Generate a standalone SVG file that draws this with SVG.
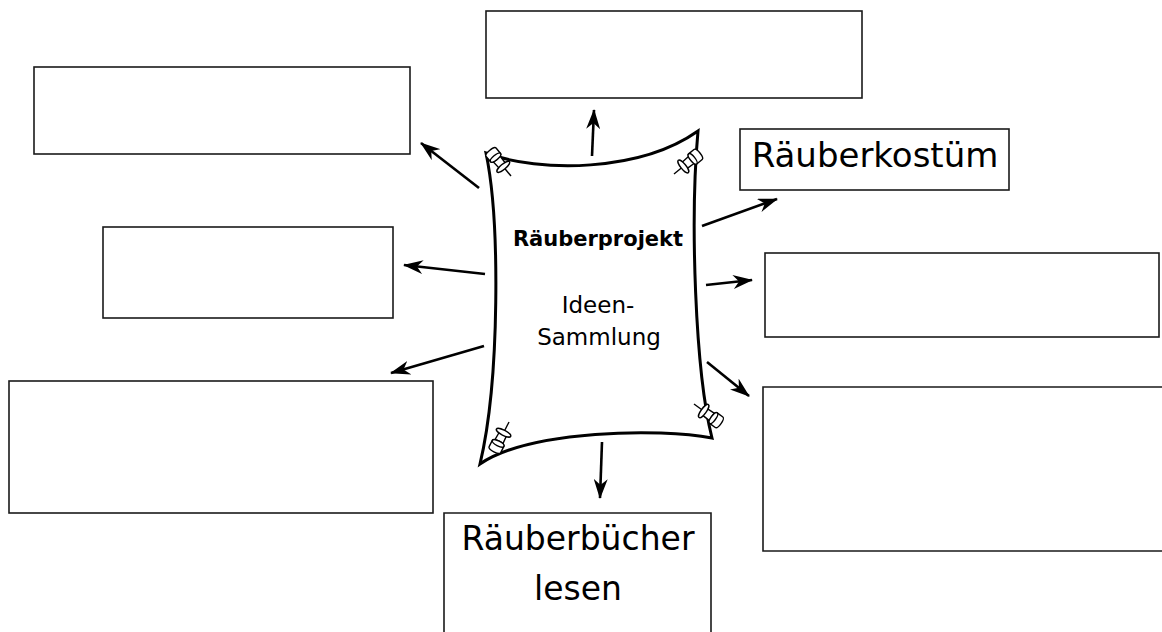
<svg xmlns="http://www.w3.org/2000/svg" xmlns:xlink="http://www.w3.org/1999/xlink" width="1162" height="632" viewBox="0 0 1162 632">
  <style>
    .box { fill: #ffffff; stroke: #1a1a1a; stroke-width: 1.6; }
    .paper { fill: #ffffff; stroke: #000000; stroke-width: 3; stroke-linejoin: miter; }
    .arrow { fill: none; stroke: #000000; stroke-width: 2.6; marker-end: url(#head); }
    .big { font-family: "DejaVu Sans", "Noto Sans", sans-serif; font-size: 34px; fill: #000000; text-anchor: middle; }
    .title { font-family: "DejaVu Sans", "Noto Sans", sans-serif; font-size: 21px; font-weight: bold; fill: #000000; text-anchor: middle; }
    .sub { font-family: "DejaVu Sans", "Noto Sans", sans-serif; font-size: 23px; fill: #000000; text-anchor: middle; }
    .pin * { fill: #ffffff; stroke: #000000; stroke-width: 1.4; stroke-linejoin: round; }
  </style>
  <defs>
    <marker id="head" viewBox="0 0 20 14" refX="19" refY="7" markerWidth="20" markerHeight="14" markerUnits="userSpaceOnUse" orient="auto">
      <path d="M0,0 L20,7 L0,14 L6,7 z" fill="#000000"/>
    </marker>
    <!-- push pin, needle tip at origin, pointing along +x -->
    <g id="pin" class="pin">
      <line x1="-11" y1="0" x2="0" y2="0"/>
      <path d="M-13,-4 L-23,-4.5 L-23,4.5 L-13,4 z"/>
      <ellipse cx="-12" cy="0" rx="2.6" ry="8"/>
      <path d="M-24,-6.5 L-31,-6.5 A2.4,6.5 0 0 0 -31,6.5 L-24,6.5 A2.4,6.5 0 0 0 -24,-6.5 z"/>
      <ellipse cx="-24" cy="0" rx="2.4" ry="6.5"/>
    </g>
  </defs>

  <rect width="1162" height="632" fill="#ffffff"/>

  <!-- connectors from the centre sheet to the boxes -->
  <g id="connectors">
    <line class="arrow" x1="592" y1="156" x2="594" y2="110"/>
    <line class="arrow" x1="479" y1="188" x2="421" y2="143"/>
    <line class="arrow" x1="485" y1="274" x2="404" y2="265"/>
    <line class="arrow" x1="484" y1="346" x2="391" y2="373"/>
    <line class="arrow" x1="702" y1="226" x2="777" y2="199"/>
    <line class="arrow" x1="706" y1="285" x2="752" y2="280"/>
    <line class="arrow" x1="707" y1="362" x2="749" y2="396"/>
    <line class="arrow" x1="602" y1="442" x2="600" y2="498"/>
  </g>

  <!-- centre: pinned sheet -->
  <g id="center">
    <path class="paper" d="M486,153 C540,173 640,172 698,131 C690,220 695,370 712,438 C660,428 530,430 480,464 C500,380 500,220 486,153 z"/>
    <use xlink:href="#pin" href="#pin" transform="translate(511,176) rotate(50)"/>
    <use xlink:href="#pin" href="#pin" transform="translate(674,174) rotate(141)"/>
    <use xlink:href="#pin" href="#pin" transform="translate(694,404) rotate(216)"/>
    <use xlink:href="#pin" href="#pin" transform="translate(509,422) rotate(-63)"/>
    <text class="title" x="598" y="246">Räuberprojekt</text>
    <text class="sub" x="598" y="313">Ideen-</text>
    <text class="sub" x="599" y="345">Sammlung</text>
  </g>

  <g id="box-top">
    <rect class="box" x="486" y="11" width="376" height="87"/>
  </g>
  <g id="box-top-left">
    <rect class="box" x="34" y="67" width="376" height="87"/>
  </g>
  <g id="box-mid-left">
    <rect class="box" x="103" y="227" width="290" height="91"/>
  </g>
  <g id="box-bottom-left">
    <rect class="box" x="9" y="381" width="424" height="132"/>
  </g>
  <g id="box-kostuem">
    <rect class="box" x="740" y="129" width="269" height="61"/>
    <text class="big" x="875" y="167">Räuberkostüm</text>
  </g>
  <g id="box-right-mid">
    <rect class="box" x="765" y="253" width="394" height="84"/>
  </g>
  <g id="box-right-low">
    <path class="box" d="M1163,387 L763,387 L763,551 L1163,551"/>
  </g>
  <g id="box-buecher">
    <path class="box" d="M444,634 L444,513 L711,513 L711,634"/>
    <text class="big" x="578" y="550" style="font-size:33px">Räuberbücher</text>
    <text class="big" x="578" y="600" style="font-size:33px">lesen</text>
  </g>
</svg>
